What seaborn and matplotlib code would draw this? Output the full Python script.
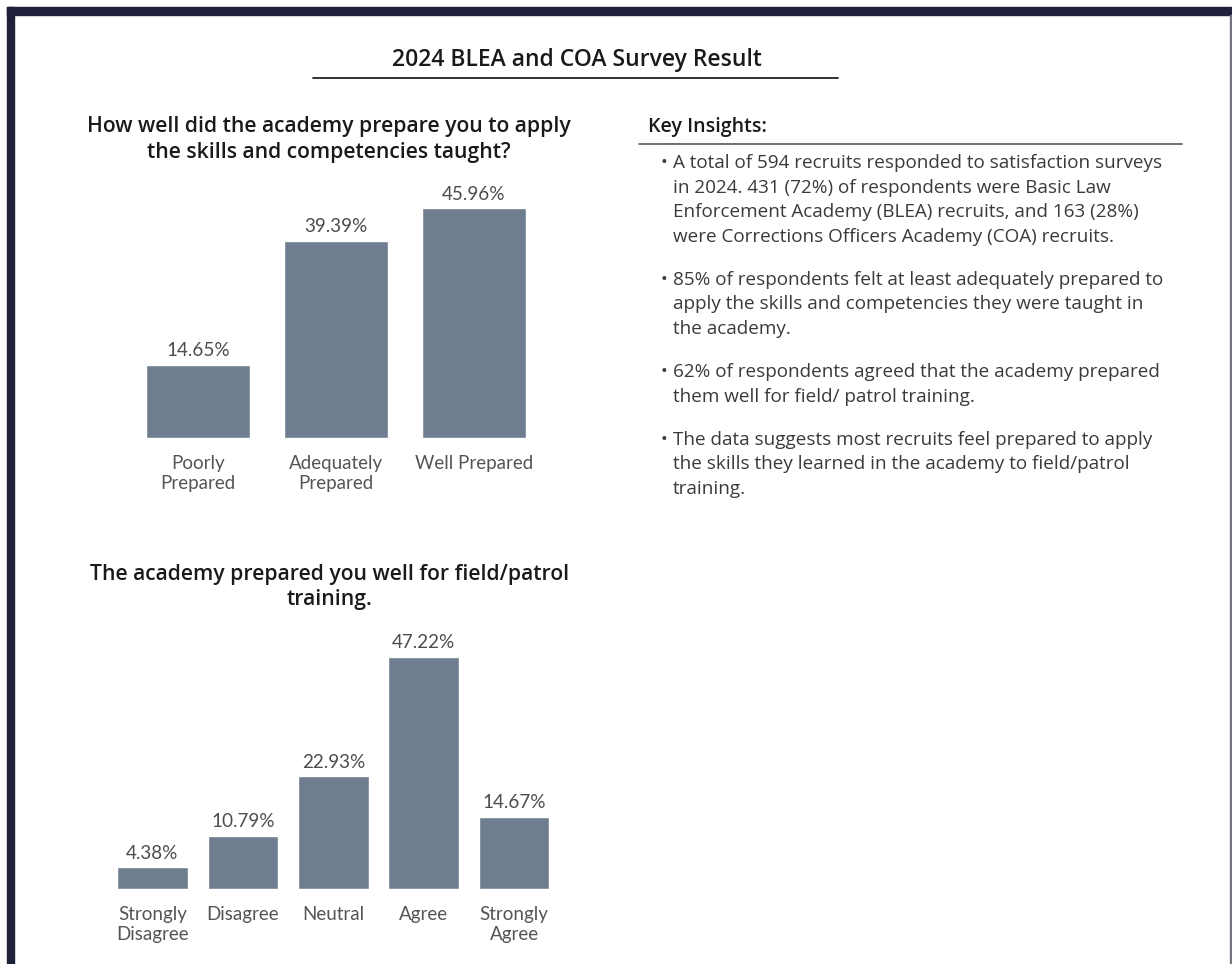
import matplotlib
matplotlib.use("Agg")
import matplotlib.pyplot as plt
import seaborn as sns
from matplotlib.patches import Rectangle
from matplotlib.lines import Line2D

# data
prep_labels = ["Poorly\nPrepared", "Adequately\nPrepared", "Well Prepared"]
prep_values = [14.65, 39.39, 45.96]

field_labels = ["Strongly\nDisagree", "Disagree", "Neutral", "Agree", "Strongly\nAgree"]
field_values = [4.38, 10.79, 22.93, 47.22, 14.67]

insights = [
    "A total of 594 recruits responded to satisfaction surveys\n"
    "in 2024. 431 (72%) of respondents were Basic Law\n"
    "Enforcement Academy (BLEA) recruits, and 163 (28%)\n"
    "were Corrections Officers Academy (COA) recruits.",
    "85% of respondents felt at least adequately prepared to\n"
    "apply the skills and competencies they were taught in\n"
    "the academy.",
    "62% of respondents agreed that the academy prepared\n"
    "them well for field/ patrol training.",
    "The data suggests most recruits feel prepared to apply\n"
    "the skills they learned in the academy to field/patrol\n"
    "training.",
]

BAR = "#6e7e8f"
W, H = 1232, 964

sns.set_theme(style="white")
plt.rcParams["font.family"] = ["Open Sans", "DejaVu Sans"]

fig = plt.figure(figsize=(W / 100, H / 100), dpi=100)
fig.patch.set_facecolor("white")


def fx(x):
    return x / W


def fy(y):
    return 1 - y / H


# dark frame on top and left, thin grey edge on right
fig.patches.append(Rectangle((fx(7), fy(15)), fx(W - 7), 8 / H, transform=fig.transFigure,
                             color="#1f2039", zorder=0))
fig.patches.append(Rectangle((fx(7), 0), 7 / W, fy(7), transform=fig.transFigure,
                             color="#1f2039", zorder=0))
fig.patches.append(Rectangle((fx(1230), 0), 2 / W, fy(15), transform=fig.transFigure,
                             color="#77737d", zorder=0))

# main title
fig.text(fx(577), fy(60), "2024 BLEA and COA Survey Result", ha="center", va="center",
         fontsize=16.5, fontweight="semibold", color="#1a1a1a")
fig.add_artist(Line2D([fx(313), fx(838)], [fy(78), fy(78)], color="#222222", lw=1.3))


def draw_bars(ax, labels, values, width):
    sns.barplot(x=labels, y=values, ax=ax, color=BAR, saturation=1, width=width)
    ax.set_xlim(-0.5, len(labels) - 0.5)
    ax.set_ylim(0, 50)
    for c in ax.containers:
        ax.bar_label(c, labels=[f"{v:.2f}%" for v in values], padding=4,
                     fontsize=13.6, color="#4d4d4d", family=["Lato", "DejaVu Sans"])
    ax.set_yticks([])
    ax.tick_params(axis="x", length=0, pad=12.5)
    for t in ax.get_xticklabels():
        t.set_fontsize(13.5)
        t.set_color("#555555")
        t.set_family(["Lato", "DejaVu Sans"])
        t.set_linespacing(1.2)
    sns.despine(ax=ax, left=True, bottom=True)
    ax.set_facecolor("none")


# chart 1
ax1 = fig.add_axes([fx(129), fy(438), 414 / W, 250 / H])
draw_bars(ax1, prep_labels, prep_values, 0.76)
fig.text(fx(329), fy(139.5), "How well did the academy prepare you to apply\nthe skills and competencies taught?",
         ha="center", va="center", fontsize=15.2, fontweight="semibold", color="#1a1a1a", linespacing=1.3)

# chart 2
ax2 = fig.add_axes([fx(107.3), fy(889), 452 / W, 245.7 / H])
draw_bars(ax2, field_labels, field_values, 0.78)
fig.text(fx(330), fy(587), "The academy prepared you well for field/patrol\ntraining.",
         ha="center", va="center", fontsize=15.2, fontweight="semibold", color="#1a1a1a", linespacing=1.3)

# key insights
fig.text(fx(648), fy(127), "Key Insights:", ha="left", va="center",
         fontsize=14, fontweight="semibold", color="#1a1a1a")
fig.add_artist(Line2D([fx(639), fx(1182)], [fy(144), fy(144)], color="#555555", lw=1.2))

y = 163
for txt in insights:
    n = txt.count("\n") + 1
    fig.text(fx(661), fy(y), "\u2022", ha="left", va="center", fontsize=13, color="#3a3a3a")
    for i, line in enumerate(txt.split("\n")):
        fig.text(fx(673), fy(y + i * 24.6), line, ha="left", va="center",
                 fontsize=13.6, color="#3a3a3a")
    y += (n - 1) * 24.6 + 43

fig.savefig("out.png", dpi=100, facecolor="white")
